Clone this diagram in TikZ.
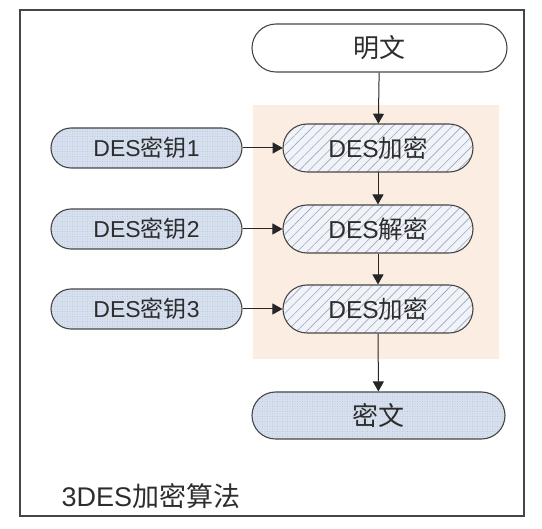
\documentclass[tikz,border=0pt]{standalone}
\usepackage{fontspec}
\setmainfont{Liberation Sans}
\newfontfamily\cjk{Noto Sans CJK SC}
\usepackage{tikz}
\usetikzlibrary{arrows.meta,patterns.meta}

\definecolor{framegray}{RGB}{70,70,70}
\definecolor{textgray}{RGB}{45,45,45}
\definecolor{roundbg}{RGB}{252,237,227}
\definecolor{keyblue}{RGB}{214,224,238}
\definecolor{keydots}{RGB}{170,184,204}
\definecolor{hatchbg}{RGB}{240,244,250}
\definecolor{hatchline}{RGB}{160,165,175}

\tikzset{
  box/.style={draw=framegray, line width=1.1pt, text=textgray, inner sep=0pt,
    font=\fontsize{24.5}{29}\selectfont},
  plainbox/.style={box, fill=white, minimum width=255pt, minimum height=48pt, rounded corners=24pt,
    font=\fontsize{26}{31}\selectfont},
  desbox/.style={box, minimum width=190pt, minimum height=48pt, rounded corners=24pt,
    preaction={fill=hatchbg}, pattern={Lines[angle=45,distance=7pt,line width=0.6pt]},
    pattern color=hatchline},
  keybox/.style={box, minimum width=191pt, minimum height=40pt, rounded corners=20pt,
    preaction={fill=keyblue}, pattern={Dots[distance=2.5pt,radius=0.45pt]},
    pattern color=keydots, font=\fontsize{23}{28}\selectfont},
  cipherbox/.style={keybox, minimum width=253pt, minimum height=47pt, rounded corners=23.5pt,
    font=\fontsize{26}{31}\selectfont},
  flow/.style={draw=black!85, line width=1pt, -{Triangle[length=10pt,width=11pt]}}
}

\begin{document}
\begin{tikzpicture}[x=1pt,y=-1pt]
    \useasboundingbox (0,0) rectangle (542,529);

    % Frame
    \draw[framegray, line width=1.5pt] (20,10) rectangle (524,516);

    % Rounds
    \fill[roundbg] (253,105) rectangle (499,359);

    % Plain and cipher text
    \node[plainbox] (plain) at (379.5,48) {{\cjk 明文}};
    \node[cipherbox] (cipher) at (378.5,415.5) {{\cjk 密文}};

    % DES stages
    \node[desbox] (enc1) at (378,148) {DES{\cjk 加密}};
    \node[desbox] (dec2) at (378,229) {DES{\cjk 解密}};
    \node[desbox] (enc3) at (378,309) {DES{\cjk 加密}};

    % Keys
    \node[keybox] (key1) at (146.5,148) {DES{\cjk 密钥}1};
    \node[keybox] (key2) at (146.5,229) {DES{\cjk 密钥}2};
    \node[keybox] (key3) at (146.5,309) {DES{\cjk 密钥}3};

    % Arrows
    \draw[flow] (plain) -- (enc1);
    \draw[flow] (enc1) -- (dec2);
    \draw[flow] (dec2) -- (enc3);
    \draw[flow] (enc3) -- (cipher);
    \draw[flow] (key1) -- (enc1);
    \draw[flow] (key2) -- (dec2);
    \draw[flow] (key3) -- (enc3);

    % Label
    \node[anchor=west, text=textgray, font=\fontsize{27}{32}\selectfont] (title) at (58,496) {3DES{\cjk 加密算法}};
\end{tikzpicture}
\end{document}
